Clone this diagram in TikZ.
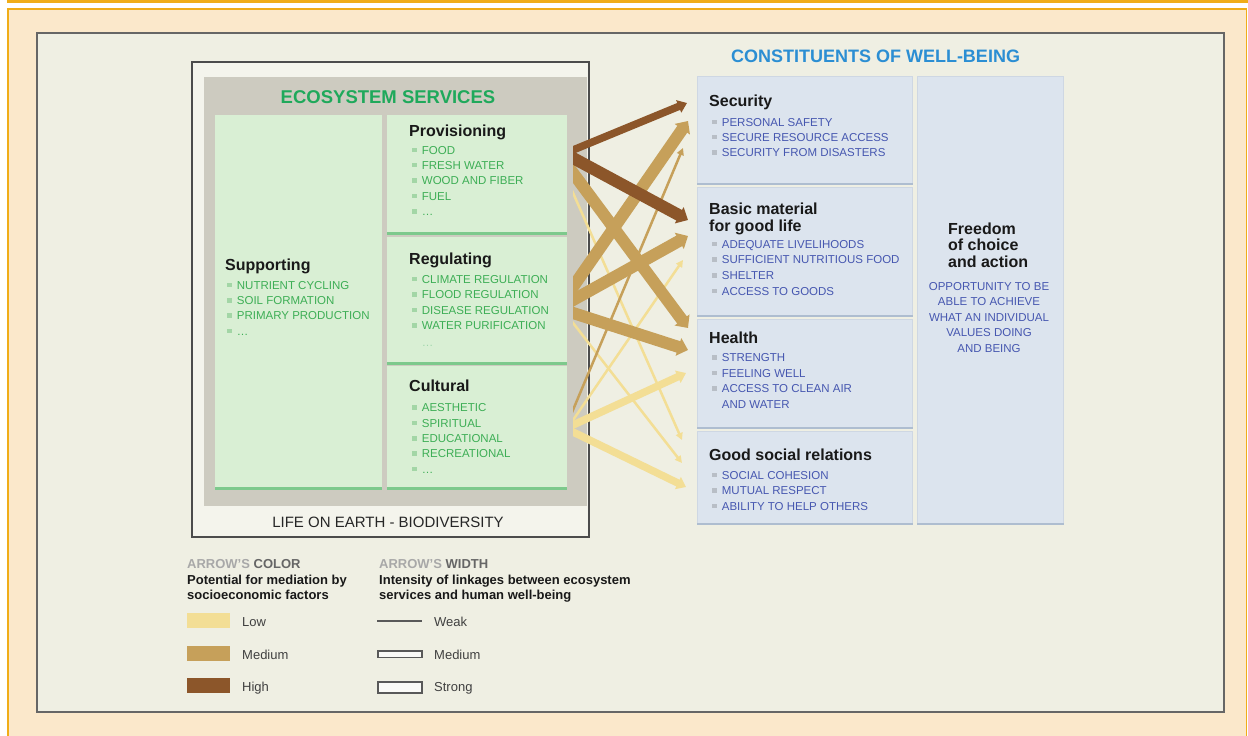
\documentclass[tikz,border=0pt]{standalone}
\usepackage{fontspec}
\setmainfont{Liberation Sans}
\usetikzlibrary{arrows.meta}

\definecolor{peach}{HTML}{FBE8CB}
\definecolor{bandorange}{HTML}{F0AD18}
\definecolor{panel}{HTML}{EFEFE3}
\definecolor{lifebg}{HTML}{F4F4EC}
\definecolor{svcgray}{HTML}{CDCBC0}
\definecolor{svcgreen}{HTML}{D9EFD4}
\definecolor{svcedge}{HTML}{7DC98C}
\definecolor{svctext}{HTML}{3DAE55}
\definecolor{svctitle}{HTML}{1FA95B}
\definecolor{svcdot}{HTML}{A3D6A6}
\definecolor{wbfill}{HTML}{DCE4EE}
\definecolor{wbedge}{HTML}{AEBDD0}
\definecolor{wbtext}{HTML}{4657B0}
\definecolor{wbtitle}{HTML}{2B8ED3}
\definecolor{wbdot}{HTML}{B8BEC6}
\definecolor{lowcol}{HTML}{F3DE95}
\definecolor{medcol}{HTML}{C6A05A}
\definecolor{highcol}{HTML}{8C562A}
\definecolor{keygray}{HTML}{A8A8A8}

\newcommand{\gitem}[1]{\textcolor{svcdot}{\rule[2pt]{5pt}{4.5pt}}\hspace{4.7pt}#1}
\newcommand{\bitem}[1]{\textcolor{wbdot}{\rule[2pt]{5pt}{4.5pt}}\hspace{4.7pt}#1}
\newcommand{\cont}[1]{\hspace*{9.7pt}#1}

\begin{document}
\begin{tikzpicture}[x=1pt,y=-1pt,
    boxtitle/.style={anchor=base west, inner sep=0, align=left, text=black!90,
      font=\fontsize{16}{16.7}\selectfont\bfseries},
    svcitems/.style={anchor=base west, inner sep=0, align=left, text=svctext,
      font=\fontsize{11.5}{15.4}\selectfont},
    wbitems/.style={svcitems, text=wbtext},
    svcbox/.style={anchor=north west, fill=svcgreen, inner sep=0},
    wbbox/.style={anchor=north west, fill=wbfill, draw=wbedge!60, line width=0.8, inner sep=0},
    keyhead/.style={anchor=base west, inner sep=0, align=left, text=black!90,
      font=\fontsize{13}{15}\selectfont\bfseries},
    keylabel/.style={anchor=base west, inner sep=0, text=black!75,
      font=\fontsize{13}{15}\selectfont},
    weakarr/.style={line width=2.5, -{Triangle[length=7pt,width=7pt]}},
    medarr/.style={line width=7.5, -{Triangle[length=9pt,width=13pt]}},
    strongarr/.style={line width=12, -{Triangle[length=10pt,width=18pt]}}]
    \useasboundingbox (0,0) rectangle (1248,736);
    \fill[white] (0,0) rectangle (1248,736);
    \fill[bandorange] (7,0) rectangle (1248,3);
    \draw[bandorange, line width=1.5, fill=peach] (7.75,8.75) rectangle (1246.5,740);
    \draw[black!60, line width=1.2, fill=panel] (37,33) rectangle (1224,712);

    % ecosystem services (multi-line nodes sit on the baseline of their last line)
    \draw[black!70, line width=2, fill=lifebg] (192,62) rectangle (589,537);
    \fill[svcgray] (204,77) rectangle (587,506);
    \node[anchor=base, inner sep=0, text=svctitle, font=\fontsize{18.5}{20}\selectfont\bfseries]
      (ecotitle) at (388,103.3) {ECOSYSTEM SERVICES};
    \node[svcbox, minimum width=167, minimum height=373] (supp) at (215,115) {};
    \node[svcbox, minimum width=180, minimum height=118] (prov) at (387,115) {};
    \node[svcbox, minimum width=180, minimum height=126] (reg) at (387,237) {};
    \node[svcbox, minimum width=180, minimum height=122] (cult) at (387,366) {};
    \foreach \b in {supp,prov,reg,cult}
      \draw[svcedge, line width=2.5] (\b.south west) -- (\b.south east);

    \node[boxtitle] (supp-t) at (225,270) {Supporting};
    \node[svcitems, font=\fontsize{11.5}{15.33}\selectfont] (supp-l) at (227,335.3)
      {\gitem{NUTRIENT CYCLING}\\\gitem{SOIL FORMATION}\\\gitem{PRIMARY PRODUCTION}\\\gitem{\ldots}};
    \node[boxtitle] (prov-t) at (409,136) {Provisioning};
    \node[svcitems] (prov-l) at (412,215.6) {\gitem{FOOD}\\\gitem{FRESH WATER}\\
      \gitem{WOOD AND FIBER}\\\gitem{FUEL}\\\gitem{\ldots}};
    \node[boxtitle] (reg-t) at (409,264.3) {Regulating};
    \node[svcitems] (reg-l) at (412,346.7) {\gitem{CLIMATE REGULATION}\\\gitem{FLOOD REGULATION}\\
      \gitem{DISEASE REGULATION}\\\gitem{WATER PURIFICATION}\\[1.8pt]\cont{\textcolor{svctext!50}{\ldots}}};
    \node[boxtitle] (cult-t) at (409,391.7) {Cultural};
    \node[svcitems] (cult-l) at (412,473.3) {\gitem{AESTHETIC}\\\gitem{SPIRITUAL}\\
      \gitem{EDUCATIONAL}\\\gitem{RECREATIONAL}\\\gitem{\ldots}};
    \node[anchor=base, inner sep=0, text=black!85, font=\fontsize{15}{16}\selectfont]
      (life) at (388,527.3) {LIFE ON EARTH - BIODIVERSITY};

    % constituents of well-being
    \node[anchor=base, inner sep=0, text=wbtitle, font=\fontsize{18}{20}\selectfont\bfseries]
      (wbtitle) at (875.5,62.7) {CONSTITUENTS OF WELL-BEING};
    \node[wbbox, minimum width=215, minimum height=107] (sec) at (697,76) {};
    \node[wbbox, minimum width=215, minimum height=128] (basic) at (697,187) {};
    \node[wbbox, minimum width=215, minimum height=108] (health) at (697,319) {};
    \node[wbbox, minimum width=215, minimum height=92] (social) at (697,431) {};
    \node[wbbox, minimum width=146, minimum height=447] (free) at (917,76) {};
    \foreach \b in {sec,basic,health,social,free}
      \draw[wbedge, line width=2] (\b.south west) -- (\b.south east);

    \node[boxtitle] (sec-t) at (709,106) {Security};
    \node[wbitems] (sec-l) at (712,156.8) {\bitem{PERSONAL SAFETY}\\\bitem{SECURE RESOURCE ACCESS}\\
      \bitem{SECURITY FROM DISASTERS}};
    \node[boxtitle] (basic-t) at (709,231) {Basic material\\for good life};
    \node[wbitems, font=\fontsize{11.5}{15.6}\selectfont] (basic-l) at (712,295.1)
      {\bitem{ADEQUATE LIVELIHOODS}\\\bitem{SUFFICIENT NUTRITIOUS FOOD}\\
      \bitem{SHELTER}\\\bitem{ACCESS TO GOODS}};
    \node[boxtitle] (health-t) at (709,343.3) {Health};
    \node[wbitems, font=\fontsize{11.5}{15.5}\selectfont] (health-l) at (712,408.2)
      {\bitem{STRENGTH}\\\bitem{FEELING WELL}\\\bitem{ACCESS TO CLEAN AIR}\\\cont{AND WATER}};
    \node[boxtitle] (social-t) at (709,460.7) {Good social relations};
    \node[wbitems] (social-l) at (712,510.1) {\bitem{SOCIAL COHESION}\\\bitem{MUTUAL RESPECT}\\
      \bitem{ABILITY TO HELP OTHERS}};
    \node[boxtitle] (free-t) at (948,267.4) {Freedom\\of choice\\and action};
    \node[wbitems, anchor=base, align=center, font=\fontsize{11.5}{15.5}\selectfont] (free-l) at (989,352)
      {OPPORTUNITY TO BE\\ABLE TO ACHIEVE\\WHAT AN INDIVIDUAL\\VALUES DOING\\AND BEING};

    % arrow ends
    \coordinate (prov-a) at (565,153.3);
    \coordinate (prov-b) at (565,153.7);
    \coordinate (prov-c) at (565,162.2);
    \coordinate (prov-d) at (565,174.7);
    \coordinate (reg-a) at (565,298.5);
    \coordinate (reg-b) at (565,304.5);
    \coordinate (reg-c) at (565,310.4);
    \coordinate (reg-d) at (565,312.6);
    \coordinate (cult-a) at (565,429);
    \coordinate (cult-b) at (565,431.7);
    \coordinate (cult-c) at (565,428.7);
    \coordinate (cult-d) at (565,428.1);
    \coordinate (sec-a) at (687,103);
    \coordinate (sec-b) at (688,121);
    \coordinate (sec-c) at (683,148);
    \coordinate (basic-a) at (688,220);
    \coordinate (basic-b) at (688,236);
    \coordinate (basic-c) at (683,260);
    \coordinate (health-a) at (688,328);
    \coordinate (health-b) at (688,350);
    \coordinate (health-c) at (686,373);
    \coordinate (social-a) at (682,440);
    \coordinate (social-b) at (682,463);
    \coordinate (social-c) at (686,487);

    \begin{scope}
      \clip (573,60) rectangle (700,540);
      % low
      \draw[weakarr, lowcol] (prov-d) -- (social-a);
      \draw[weakarr, lowcol] (reg-d) -- (social-b);
      \draw[weakarr, lowcol] (cult-b) -- (basic-c);
      \draw[medarr, lowcol] (cult-c) -- (health-c);
      \draw[medarr, lowcol] (cult-d) -- (social-c);
      % medium
      \draw[weakarr, medcol] (cult-a) -- (sec-c);
      \draw[strongarr, medcol] (prov-c) -- (health-a);
      \draw[strongarr, medcol] (reg-a) -- (sec-b);
      \draw[strongarr, medcol] (reg-b) -- (basic-b);
      \draw[strongarr, medcol] (reg-c) -- (health-b);
      % high
      \draw[medarr, highcol] (prov-a) -- (sec-a);
      \draw[strongarr, highcol] (prov-b) -- (basic-a);
    \end{scope}

    % key
    \node[keyhead] (colkey) at (187,568.3) {\textcolor{keygray}{ARROW'S} \textcolor{black!60}{COLOR}};
    \node[keyhead] (colkey-l) at (187,599.3) {Potential for mediation by\\socioeconomic factors};
    \fill[lowcol] (187,613) rectangle (230,628);
    \fill[medcol] (187,646) rectangle (230,661);
    \fill[highcol] (187,678) rectangle (230,693);
    \node[keylabel] (low) at (242,626) {Low};
    \node[keylabel] (medium) at (242,659) {Medium};
    \node[keylabel] (high) at (242,691.7) {High};
    \node[keyhead] (widkey) at (379,568.3) {\textcolor{keygray}{ARROW'S} \textcolor{black!60}{WIDTH}};
    \node[keyhead] (widkey-l) at (379,599.3) {Intensity of linkages between ecosystem\\services and human well-being};
    \draw[black!65, line width=2.5] (377,621) -- (422,621);
    \draw[black!65, line width=1.2, fill=white!70!panel] (378,651) rectangle (422,657.5);
    \draw[black!65, line width=1.2, fill=white!70!panel] (378,682) rectangle (422,693);
    \node[keylabel] (weak) at (434,626) {Weak};
    \node[keylabel] (mid) at (434,659) {Medium};
    \node[keylabel] (strong) at (434,691.7) {Strong};
\end{tikzpicture}
\end{document}
